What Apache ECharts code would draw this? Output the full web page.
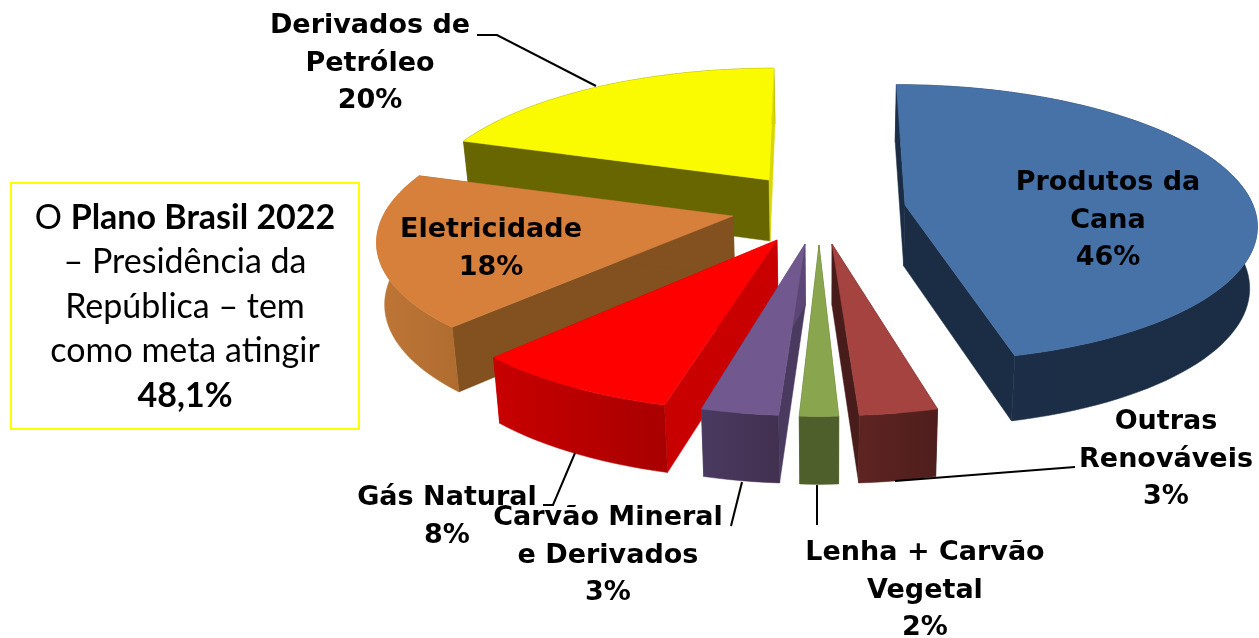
<!DOCTYPE html>
<html>
<head>
<meta charset="utf-8">
<style>html,body{margin:0;padding:0;background:#fff}#c{width:1259px;height:638px}</style>
<script src="https://cdn.jsdelivr.net/npm/echarts@6/dist/echarts.min.js"></script>
</head>
<body>
<div id="c"></div>
<script>
// ---- data (clockwise from 12 o'clock) ----
const categories = ['Produtos da Cana','Outras Renováveis','Lenha + Carvão Vegetal','Carvão Mineral e Derivados','Gás Natural','Eletricidade','Derivados de Petróleo'];
const shares = [46,3,2,3,8,18,20];
const labelLines = [['Produtos da','Cana'],['Outras','Renováveis'],['Lenha + Carvão','Vegetal'],['Carvão Mineral','e Derivados'],['Gás Natural'],['Eletricidade'],['Derivados de','Petróleo']];

// ---- layout & style ----
const apexX = [905,832,819,805,777,733,769];
const apexY = [205,244,245,244,240,216,180];
const radii = [348,345,255,340,352,350,342];
const perspective = [0.13,0.19,0.19,0.19,0.19,0.15,0.19];
const depthK = [136,139,139,139,139,136,133];
const vanishX = [830,830,819,805,800,830,800];
const topColors = ['#4672A8','#A44340','#89A54E','#71588F','#FF0000','#D7803C','#FAFA00'];
const cutColorsStart = ['#1B2D45','#5E2422','#4F5F2B','#4B3A60','#C80000','#83501F','#686600'];
const cutColorsEnd = ['#1B2D45','#481C1A','#4F5F2B','#5B4675','#C80000','#83501F','#D8D800'];
const wallLeft = ['#1C2F48','#5E2422','#4F5F2B','#4B3A60','#C80000','#BE7636','#686600'];
const wallRight = ['#1B2D45','#4E1E1C','#4F5F2B','#41304F','#A80000','#B06C30','#686600'];
const paintOrder = [6,5,4,3,2,1,0];
const labelCenterX = [1108,1166,925,608,447,491,370];
const labelFirstY = [183,422,553,518,498,230,26];
const lineStep = 37.5;
const leaders = [
  [[477,35],[497,35],[596,86]],
  [[543,505],[553,505],[575,453]],
  [[731,526],[742,482]],
  [[817,485],[817,525]],
  [[895,481],[1075,467]]
];
const X0 = 830, H = 61, FLOOR_SHRINK = 0.018;
const labelFont = '"DejaVu Sans"';

const total = shares.reduce((a,b)=>a+b,0);
const starts = []; { let acc = 0; shares.forEach(v=>{ starts.push(acc/total*360); acc += v; }); }

function proj(i, deg) {
  const t = deg*Math.PI/180, u = Math.sin(t), v = -Math.cos(t);
  const w = 1/(1-perspective[i]*v);
  return { x: apexX[i]+radii[i]*u*w+(apexX[i]-vanishX[i])*(w-1), y: apexY[i]+depthK[i]*v*w, w };
}
const apex = i => ({x:apexX[i], y:apexY[i], w:1});
const topPt = p => [p.x, p.y];
const botPt = p => [p.x+(X0-p.x)*FLOOR_SHRINK, p.y+H*Math.sqrt(p.w)];
const poly = (points, fill) => ({type:'polygon', shape:{points}, style:{fill, stroke:fill, lineWidth:0.5}});

function renderSlice(params, api) {
  const i = api.value(0), a0 = starts[i], a1 = a0+shares[i]/total*360;
  const arc = [];
  const n = Math.max(4, Math.ceil((a1-a0)/2));
  for (let k=0;k<=n;k++) arc.push(proj(i, a0+(a1-a0)*k/n));
  const A = apex(i), first = arc[0], last = arc[arc.length-1];
  const wall = poly(arc.map(topPt).concat(arc.slice().reverse().map(botPt)),
    {type:'linear',x:0,y:0,x2:1,y2:0,colorStops:[{offset:0,color:wallLeft[i]},{offset:1,color:wallRight[i]}]});
  const cuts = [
    poly([topPt(A),topPt(first),botPt(first),botPt(A)], cutColorsStart[i]),
    poly([topPt(A),topPt(last),botPt(last),botPt(A)], cutColorsEnd[i])
  ];
  // a rim lying wholly on the far side is hidden, so it goes beneath the cut faces
  const rimIsBehind = first.w < 1 && last.w < 1;
  const sides = rimIsBehind ? [wall].concat(cuts) : cuts.concat([wall]);
  return {type:'group', children: sides.concat([poly([topPt(A)].concat(arc.map(topPt)), topColors[i])])};
}

function renderLabel(params, api) {
  const i = api.value(0);
  const lines = labelLines[i].concat([shares[i]+'%']);
  return {type:'group', children: lines.map((t,k)=>({
    type:'text', z2:100,
    style:{x:labelCenterX[i], y:labelFirstY[i]+k*lineStep, text:t, fill:'#000', align:'center', verticalAlign:'middle',
      font:'bold 27px '+labelFont}
  }))};
}

function renderLeader(params, api) {
  return {type:'polyline', z2:90, shape:{points:leaders[api.value(0)]}, style:{fill:'none', stroke:'#000', lineWidth:2}};
}

const chart = echarts.init(document.getElementById('c'), null, {renderer:'canvas'});
chart.setOption({
  animation:false,
  backgroundColor:'#ffffff',
  series:[
    {type:'custom', coordinateSystem:'none', silent:true, z:2, data:paintOrder.map(i=>[i]), renderItem:renderSlice},
    {type:'custom', coordinateSystem:'none', silent:true, z:3, data:leaders.map((_,i)=>[i]), renderItem:renderLeader},
    {type:'custom', coordinateSystem:'none', silent:true, z:4, data:categories.map((_,i)=>[i]), renderItem:renderLabel}
  ],
  graphic:[
    {type:'rect', z:5, shape:{x:11,y:183,width:348,height:246}, style:{fill:'#fff',stroke:'#FFFF00',lineWidth:2}},
    {type:'text', z:6, style:{x:185, y:307, align:'center', verticalAlign:'middle', fill:'#000',
      text:'{n|O }{b|Plano Brasil 2022}\n{n|– Presidência da}\n{n|República – tem}\n{n|como meta atingir}\n{b|48,1%}',
      rich:{
        n:{font:'34px Lato', lineHeight:44.5, fill:'#000'},
        b:{font:'bold 34px Lato', lineHeight:44.5, fill:'#000'}
      }}}
  ]
});
</script>
</body>
</html>
